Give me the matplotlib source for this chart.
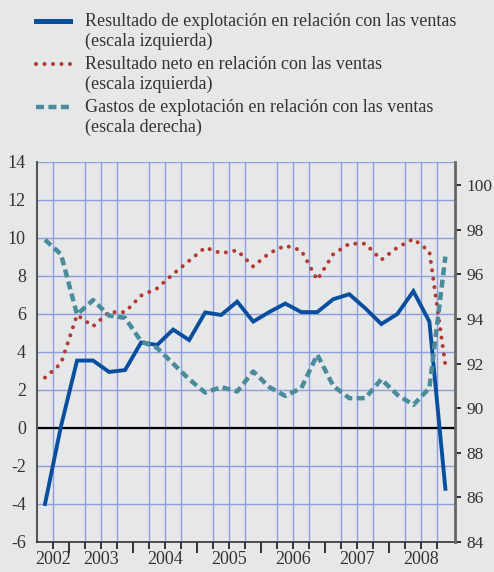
import matplotlib
matplotlib.use("Agg")
import matplotlib.pyplot as plt
from matplotlib.lines import Line2D
import numpy as np

# quarterly data, 2002 T3 to 2008 T4
years = [2002, 2003, 2004, 2005, 2006, 2007, 2008]
periods = [f"{y}T{q}" for y in years for q in (1, 2, 3, 4)][2:]

res_explotacion = [-4.0, 0.1, 3.55, 3.55, 2.95, 3.05, 4.5, 4.37, 5.18, 4.63,
                   6.08, 5.95, 6.65, 5.6, 6.1, 6.55, 6.1, 6.1, 6.78, 7.04,
                   6.3, 5.47, 6.0, 7.2, 5.6, -3.2]
res_neto = [2.65, 3.4, 5.95, 5.35, 6.1, 6.1, 6.97, 7.35, 8.1, 8.8,
            9.5, 9.2, 9.35, 8.5, 9.2, 9.6, 9.35, 7.8, 9.15, 9.7,
            9.7, 8.85, 9.5, 9.95, 9.3, 3.3]
gastos = [97.55, 96.9, 94.2, 94.85, 94.15, 94.05, 93.0, 92.7, 92.0, 91.3,
          90.7, 90.95, 90.75, 91.65, 90.95, 90.55, 90.9, 92.4, 91.0, 90.45,
          90.45, 91.3, 90.6, 90.15, 90.9, 96.8]

labels = ["Resultado de explotación en relación con las ventas\n(escala izquierda)",
          "Resultado neto en relación con las ventas\n(escala izquierda)",
          "Gastos de explotación en relación con las ventas\n(escala derecha)"]

bg = "#e6e7e9"
grid_c = "#8c9fd8"
txt_c = "#333333"
blue = "#0a4f9e"
red = "#b23a30"
teal = "#4a8c9c"

plt.rcParams["font.family"] = ["Liberation Serif", "DejaVu Serif"]
plt.rcParams["axes.unicode_minus"] = False

fig = plt.figure(figsize=(4.94, 5.72), dpi=100, facecolor=bg)
W, H = 494, 572
ax = fig.add_axes([37 / W, 1 - 542 / H, 418 / W, 380 / H])
ax.set_facecolor(bg)

x = np.arange(len(periods))
ax.set_xlim(-0.5, len(periods) - 0.4)
ax.set_ylim(-6, 14)
ax.set_yticks(np.arange(-6, 15, 2))

# grid
ax.set_xticks(x[:-1] + 0.5, minor=True)
ax.grid(True, which="minor", axis="x", color=grid_c, lw=1.0)
ax.grid(True, which="major", axis="y", color=grid_c, lw=1.0)
ax.set_axisbelow(True)
ax.axhline(0, color="black", lw=1.6, zorder=2)

# year boundary ticks (long) and quarter ticks (short)
year_start = [i for i, p in enumerate(periods) if p.endswith("T1")]
ax.set_xticks([i - 0.5 for i in year_start])
ax.set_xticklabels([])
ax.tick_params(axis="x", which="major", length=8, width=1.4, color="#333333")
ax.tick_params(axis="x", which="minor", length=5, width=1.4, color="#333333")
ax.tick_params(axis="y", length=0, pad=8, labelsize=13, labelcolor=txt_c)

for yv in years:
    idx = [i for i, p in enumerate(periods) if p.startswith(str(yv))]
    ax.text(np.mean(idx), -0.024, str(yv), transform=ax.get_xaxis_transform(),
            ha="center", va="top", fontsize=13, color=txt_c)

for s in ["top", "right"]:
    ax.spines[s].set_visible(False)
ax.spines["left"].set_color("#555555")
ax.spines["left"].set_linewidth(1.5)
ax.spines["bottom"].set_color("#333333")
ax.spines["bottom"].set_linewidth(1.2)

ax.plot(x, res_explotacion, color=blue, lw=2.8, solid_joinstyle="miter", zorder=4)
ax.plot(x, res_neto, color=red, lw=2.9, linestyle=(0, (0.01, 2.1)),
        dash_capstyle="round", zorder=5)

ax2 = ax.twinx()
ax2.set_ylim(84, 84 + 20 * 19 / 22.3)
ax2.set_yticks(np.arange(84, 101, 2))
ax2.plot(x, gastos, color=teal, lw=3.2, linestyle=(0, (1.8, 1.0)),
         dash_capstyle="butt", zorder=3)
for s in ["top", "left", "bottom"]:
    ax2.spines[s].set_visible(False)
ax2.spines["right"].set_color("#666666")
ax2.spines["right"].set_linewidth(2)
ax2.tick_params(axis="y", length=4, width=1.4, color="#333333", pad=4,
                labelsize=12.5, labelcolor=txt_c)

# legend drawn by hand so the key sits on the first text line
styles = [dict(color=blue, lw=3.6),
          dict(color=red, lw=2.9, linestyle=(0, (0.01, 2.1)), dash_capstyle="round"),
          dict(color=teal, lw=3.2, linestyle=(0, (1.8, 1.0)))]
rows = [21, 64, 107]
for lab, st, py in zip(labels, styles, rows):
    fig.add_artist(Line2D([36 / W, 70 / W], [1 - py / H] * 2,
                          transform=fig.transFigure, **st))
    fig.text(85 / W, 1 - (py - 8) / H, lab, ha="left", va="top",
             fontsize=13, color=txt_c, linespacing=1.22)

fig.savefig("out.png", dpi=100, facecolor=bg)
